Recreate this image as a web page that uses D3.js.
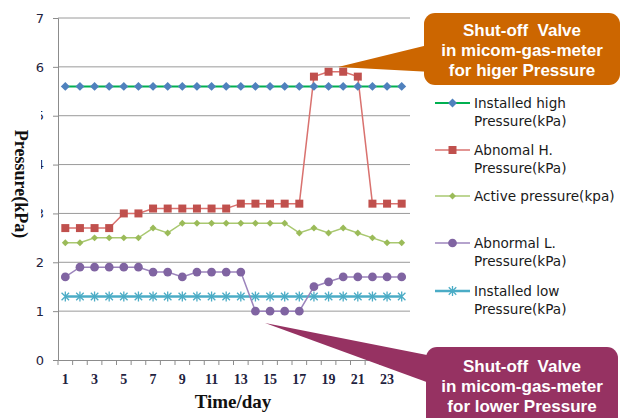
<!DOCTYPE html>
<html>
<head>
<meta charset="utf-8">
<script src="https://cdn.jsdelivr.net/npm/d3@7"></script>
<style>
  body { margin: 0; background: #fff; }
  svg { display: block; }
</style>
</head>
<body>
<div id="app"></div>
<script>
const days = d3.range(1, 25);
const yTicks = [0, 1, 2, 3, 4, 5, 6, 7];
const xTickLabels = [1, 3, 5, 7, 9, 11, 13, 15, 17, 19, 21, 23];

const installedHigh = [5.6, 5.6, 5.6, 5.6, 5.6, 5.6, 5.6, 5.6, 5.6, 5.6, 5.6, 5.6,
	5.6, 5.6, 5.6, 5.6, 5.6, 5.6, 5.6, 5.6, 5.6, 5.6, 5.6, 5.6];
const abnormalHigh = [2.7, 2.7, 2.7, 2.7, 3.0, 3.0, 3.1, 3.1, 3.1, 3.1, 3.1, 3.1,
	3.2, 3.2, 3.2, 3.2, 3.2, 5.8, 5.9, 5.9, 5.8, 3.2, 3.2, 3.2];
const active = [2.4, 2.4, 2.5, 2.5, 2.5, 2.5, 2.7, 2.6, 2.8, 2.8, 2.8, 2.8,
	2.8, 2.8, 2.8, 2.8, 2.6, 2.7, 2.6, 2.7, 2.6, 2.5, 2.4, 2.4];
const abnormalLow = [1.7, 1.9, 1.9, 1.9, 1.9, 1.9, 1.8, 1.8, 1.7, 1.8, 1.8, 1.8,
	1.8, 1.0, 1.0, 1.0, 1.0, 1.5, 1.6, 1.7, 1.7, 1.7, 1.7, 1.7];
const installedLow = [1.3, 1.3, 1.3, 1.3, 1.3, 1.3, 1.3, 1.3, 1.3, 1.3, 1.3, 1.3,
	1.3, 1.3, 1.3, 1.3, 1.3, 1.3, 1.3, 1.3, 1.3, 1.3, 1.3, 1.3];

const series = [
	{ name: ['Installed high', 'Pressure(kPa)'], values: installedHigh, line: '#00b050', fill: '#4f81bd', symbol: 'diamond', size: 40, width: 2 },
	{ name: ['Abnomal H.', 'Pressure(kPa)'], values: abnormalHigh, line: '#d9726f', fill: '#c0504d', symbol: 'square', size: 64, width: 1.5 },
	{ name: ['Active pressure(kpa)'], values: active, line: '#a9c870', fill: '#9bbb59', symbol: 'diamond', size: 24, width: 1.5 },
	{ name: ['Abnormal L.', 'Pressure(kPa)'], values: abnormalLow, line: '#9c84bc', fill: '#8064a2', symbol: 'circle', size: 60, width: 1.5 },
	{ name: ['Installed low', 'Pressure(kPa)'], values: installedLow, line: '#4bacc6', fill: '#4bacc6', symbol: 'asterisk', size: 0, width: 2.5 },
];

const width = 624, height = 418;
const svg = d3.select('#app').append('svg').attr('width', width).attr('height', height);

const x = d3.scaleBand().domain(days).range([58, 409]);
const y = d3.scaleLinear().domain([0, 7]).range([360, 18]);
const cx = (d) => x(d) + x.bandwidth() / 2;

// gridlines
svg.append('g')
	.selectAll('line')
	.data(yTicks.slice(1))
	.join('line')
	.attr('x1', 58).attr('x2', 410)
	.attr('y1', (d) => y(d)).attr('y2', (d) => y(d))
	.attr('stroke', '#9a9a9a').attr('stroke-width', 1);

// y axis
const yAxis = svg.append('g')
	.attr('transform', 'translate(58,0)')
	.call(d3.axisLeft(y).tickValues(yTicks).tickFormat(d3.format('d')).tickSize(5).tickPadding(9));
yAxis.select('.domain').attr('stroke', '#8c8c8c');
yAxis.selectAll('.tick line').attr('stroke', '#8c8c8c');
yAxis.selectAll('.tick text')
	.attr('font-family', 'DejaVu Sans, sans-serif')
	.attr('font-size', 13)
	.attr('fill', '#1f2340');

// x axis: labels at odd days, tick marks at category boundaries
const xAxis = svg.append('g')
	.attr('transform', 'translate(0,360)')
	.call(d3.axisBottom(x).tickValues(xTickLabels).tickSize(0).tickPadding(14));
xAxis.select('.domain').attr('stroke', '#8c8c8c');
xAxis.selectAll('.tick text')
	.attr('font-family', 'Liberation Serif, serif')
	.attr('font-weight', 'bold')
	.attr('font-size', 14)
	.attr('fill', '#1f2340');
svg.append('g')
	.selectAll('line')
	.data(days.concat([25]))
	.join('line')
	.attr('x1', (d) => (d === 25 ? x.range()[1] : x(d)))
	.attr('x2', (d) => (d === 25 ? x.range()[1] : x(d)))
	.attr('y1', 360).attr('y2', 365)
	.attr('stroke', '#8c8c8c');

// axis titles (the y title box hides part of the 3-5 labels, as in the source)
svg.append('rect').attr('x', 0).attr('y', 100).attr('width', 41).attr('height', 150).attr('fill', '#fff');
svg.append('text')
	.attr('transform', 'translate(15,184) rotate(90)')
	.attr('text-anchor', 'middle')
	.attr('font-family', 'Liberation Serif, serif')
	.attr('font-weight', 'bold')
	.attr('font-size', 18)
	.attr('fill', '#111')
	.text('Pressure(kPa)');
svg.append('text')
	.attr('x', 233).attr('y', 408)
	.attr('text-anchor', 'middle')
	.attr('font-family', 'Liberation Serif, serif')
	.attr('font-weight', 'bold')
	.attr('font-size', 19)
	.attr('fill', '#111')
	.text('Time/day');

const symbolPath = (s) => {
	if (s.symbol === 'asterisk') {
		const r = 5;
		return `M0,${-r}V${r}M${-r * 0.75},${-r * 0.75}L${r * 0.75},${r * 0.75}M${-r * 0.75},${r * 0.75}L${r * 0.75},${-r * 0.75}`;
	}
	const type = { diamond: d3.symbolSquare, square: d3.symbolSquare, circle: d3.symbolCircle }[s.symbol];
	return d3.symbol().type(type).size(s.size)();
};

const drawMarker = (sel, s) => {
	if (s.symbol === 'asterisk') {
		sel.attr('d', symbolPath(s)).attr('fill', 'none').attr('stroke', s.fill).attr('stroke-width', 1.3);
	} else {
		sel.attr('d', symbolPath(s)).attr('fill', s.fill).attr('stroke', 'none');
	}
};
const rot = (s) => (s.symbol === 'diamond' ? ' rotate(45)' : '');

const line = d3.line().x((d, i) => cx(days[i])).y((d) => y(d));

// draw order: low ones first, high last
[4, 3, 2, 1, 0].forEach((k) => {
	const s = series[k];
	const g = svg.append('g');
	g.append('path')
		.datum(s.values)
		.attr('d', line)
		.attr('fill', 'none')
		.attr('stroke', s.line)
		.attr('stroke-width', s.width);
	g.selectAll('path.m')
		.data(s.values)
		.join('path')
		.attr('class', 'm')
		.attr('transform', (d, i) => `translate(${cx(days[i])},${y(d)})${rot(s)}`)
		.call(drawMarker, s);
});

// legend
const legendY = [103, 150, 196, 243, 291];
series.forEach((s, k) => {
	const g = svg.append('g').attr('transform', `translate(435,${legendY[k]})`);
	g.append('line').attr('x1', 0).attr('x2', 35).attr('stroke', s.line).attr('stroke-width', s.width);
	g.append('path').attr('transform', `translate(17.5,0)${rot(s)}`).call(drawMarker, s);
	s.name.forEach((t, j) => {
		g.append('text')
			.attr('x', 39).attr('y', j * 18.5)
			.attr('dy', '0.35em')
			.attr('font-family', 'DejaVu Sans, sans-serif')
			.attr('font-size', 13.6)
			.attr('fill', '#1a1a1a')
			.text(t);
	});
});

// callouts
const callouts = [
	{ color: '#cc6600', box: [424, 13, 196, 72], tip: [338, 67], base: [[432, 44], [432, 72]],
		lines: ['Shut-off  Valve', 'in micom-gas-meter', 'for higer Pressure'], textY: 30 },
	{ color: '#963262', box: [426, 347, 192, 90], tip: [265, 323], base: [[432, 356], [432, 384]],
		lines: ['Shut-off  Valve', 'in micom-gas-meter', 'for lower Pressure'], textY: 366 },
];
callouts.forEach((c) => {
	svg.append('path')
		.attr('d', `M${c.tip[0]},${c.tip[1]}L${c.base[0][0]},${c.base[0][1]}L${c.base[1][0]},${c.base[1][1]}Z`)
		.attr('fill', c.color);
	svg.append('rect')
		.attr('x', c.box[0]).attr('y', c.box[1])
		.attr('width', c.box[2]).attr('height', c.box[3])
		.attr('rx', 11)
		.attr('fill', c.color);
	c.lines.forEach((t, j) => {
		svg.append('text')
			.attr('x', c.box[0] + c.box[2] / 2)
			.attr('y', c.textY + j * 20)
			.attr('dy', '0.35em')
			.attr('text-anchor', 'middle')
			.attr('font-family', 'Liberation Sans, sans-serif')
			.attr('font-weight', 'bold')
			.attr('font-size', 17)
			.attr('fill', '#fff')
			.style('white-space', 'pre')
			.text(t);
	});
});
</script>
</body>
</html>
